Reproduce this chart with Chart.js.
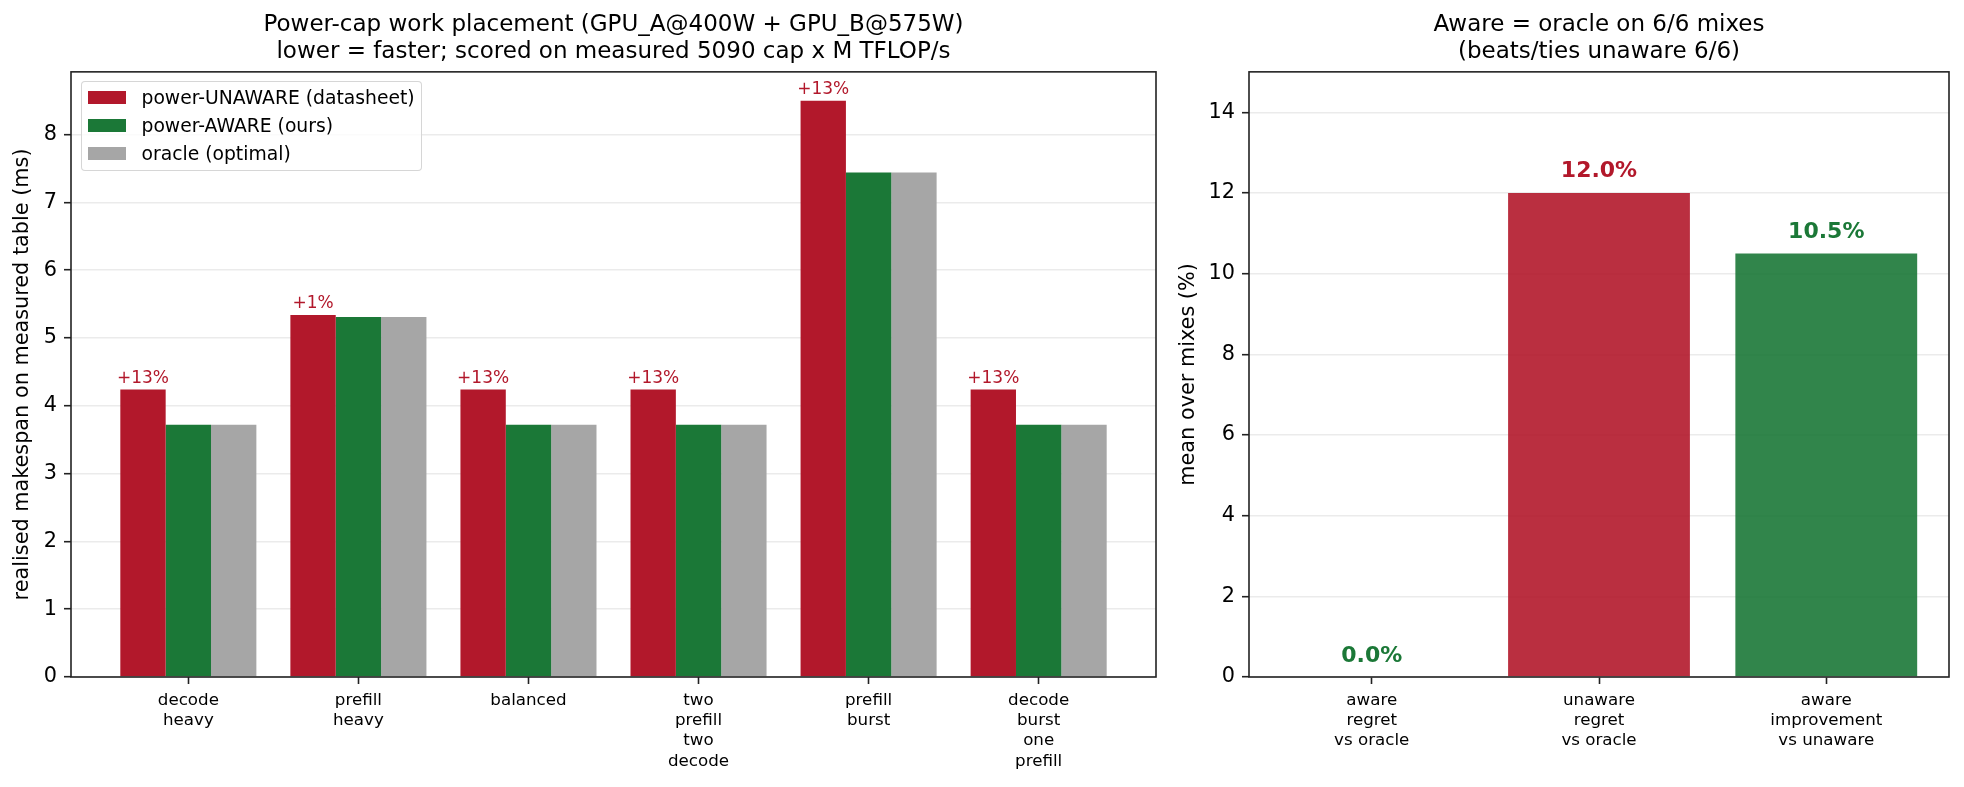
<!DOCTYPE html>
<html>
<head>
<meta charset="utf-8">
<script src="https://cdn.jsdelivr.net/npm/chart.js@4.4.1/dist/chart.umd.min.js"></script>
<style>
  html, body { margin: 0; padding: 0; background: #fff; }
  body { width: 1964px; height: 787px; position: relative; overflow: hidden; font-family: "DejaVu Sans", sans-serif; }
  #placementChart { position: absolute; left: 0; top: 0; }
  #summaryChart { position: absolute; left: 1160px; top: 0; }
  .legend {
    position: absolute; left: 81px; top: 81px; width: 339px; height: 88px;
    border: 1.5px solid rgba(204, 204, 204, 0.8); border-radius: 4px;
    background: rgba(255, 255, 255, 0.8); font-size: 18.75px; color: #000; z-index: 2;
  }
  .legend .row { position: absolute; left: 6px; height: 28px; display: flex; align-items: center; white-space: nowrap; }
  .legend .sw { width: 37.5px; height: 13px; margin-right: 16px; }
</style>
</head>
<body>
<canvas id="placementChart" width="1160" height="787"></canvas>
<canvas id="summaryChart" width="804" height="787"></canvas>
<div class="legend" id="legend"></div>

<script>
// ---- data ----
const mixNames = [
  ['decode', 'heavy'],
  ['prefill', 'heavy'],
  ['balanced'],
  ['two', 'prefill', 'two', 'decode'],
  ['prefill', 'burst'],
  ['decode', 'burst', 'one', 'prefill']
];
const seriesNames = ['power-UNAWARE (datasheet)', 'power-AWARE (ours)', 'oracle (optimal)'];
const unawareMs = [4.24, 5.34, 4.24, 4.24, 8.50, 4.24];
const awareMs   = [3.72, 5.31, 3.72, 3.72, 7.44, 3.72];
const oracleMs  = [3.72, 5.31, 3.72, 3.72, 7.44, 3.72];
const gapLabels = ['+13%', '+1%', '+13%', '+13%', '+13%', '+13%'];

const summaryNames = [
  ['aware', 'regret', 'vs oracle'],
  ['unaware', 'regret', 'vs oracle'],
  ['aware', 'improvement', 'vs unaware']
];
const summaryPct = [0.0, 12.0, 10.5];

// ---- styles ----
const FONT = '"DejaVu Sans", sans-serif';
const RED = '#b2182b';
const GREEN = '#1b7837';
const GREY = '#a6a6a6';
const SPINE = '#222';

const toXY = (arr) => arr.map((v, i) => ({ x: i, y: v }));

// box around the plot area, like matplotlib spines
const framePlugin = {
  id: 'frame',
  afterDraw(chart) {
    const { ctx, chartArea: a } = chart;
    ctx.save();
    ctx.strokeStyle = SPINE;
    ctx.lineWidth = 1.6;
    ctx.strokeRect(a.left, a.top, a.right - a.left, a.bottom - a.top);
    ctx.restore();
  }
};

function xAxis(min, max, names, height) {
  return {
    type: 'linear',
    min, max,
    offset: false,
    afterBuildTicks: (s) => { s.ticks = names.map((_, i) => ({ value: i })); },
    afterFit: (s) => { s.height = height; },
    ticks: {
      callback: (v) => names[v],
      font: { family: FONT, size: 16.7, lineHeight: 1.22 },
      color: '#000',
      padding: 6,
      maxRotation: 0,
      autoSkip: false
    },
    grid: { offset: false, drawOnChartArea: false, drawTicks: true, tickLength: 7, tickWidth: 1.6, tickColor: SPINE },
    border: { display: false }
  };
}

function yAxis(max, step, width, label, titlePad, onTop) {
  return {
    min: 0, max,
    z: onTop ? 1 : 0,
    afterFit: (s) => { s.width = width; },
    ticks: {
      stepSize: step,
      includeBounds: false,
      font: { family: FONT, size: 20.8 },
      color: '#000',
      padding: 7
    },
    grid: {
      color: onTop ? 'rgba(128,128,128,0.16)' : '#ebebeb',
      lineWidth: 1.4,
      drawTicks: true, tickLength: 7, tickWidth: 1.6, tickColor: SPINE
    },
    border: { display: false },
    title: {
      display: true, text: label, color: '#000',
      font: { family: FONT, size: 20.8, lineHeight: 1.2 },
      padding: { top: titlePad, bottom: 0 }
    }
  };
}

function titleOpts(lines) {
  return {
    display: true, fullSize: false, text: lines, color: '#000',
    font: { family: FONT, size: 23, weight: 'normal', lineHeight: 1.16 },
    padding: { top: 11.6, bottom: 6.9 }
  };
}

// ---- left: makespan per mix ----
const gapTextPlugin = {
  id: 'gapText',
  afterDatasetsDraw(chart) {
    const { ctx } = chart;
    const meta = chart.getDatasetMeta(0);
    ctx.save();
    ctx.font = '17px ' + FONT;
    ctx.fillStyle = RED;
    ctx.textAlign = 'center';
    ctx.textBaseline = 'alphabetic';
    meta.data.forEach((bar, i) => ctx.fillText(gapLabels[i], bar.x, bar.y - 6.7));
    ctx.restore();
  }
};

new Chart(document.getElementById('placementChart'), {
  type: 'bar',
  data: {
    datasets: [
      { label: seriesNames[0], data: toXY(unawareMs), backgroundColor: RED },
      { label: seriesNames[1], data: toXY(awareMs), backgroundColor: GREEN },
      { label: seriesNames[2], data: toXY(oracleMs), backgroundColor: GREY }
    ]
  },
  options: {
    responsive: false,
    animation: false,
    layout: { padding: { left: 0, right: 4, top: 0, bottom: 0 } },
    datasets: { bar: { categoryPercentage: 0.8, barPercentage: 1.0, borderWidth: 0 } },
    plugins: {
      legend: { display: false },
      tooltip: { enabled: false },
      title: titleOpts(['Power-cap work placement (GPU_A@400W + GPU_B@575W)',
                        'lower = faster; scored on measured 5090 cap x M TFLOP/s'])
    },
    scales: {
      x: xAxis(-0.69, 5.69, mixNames, 110),
      y: yAxis(8.925, 1, 71, 'realised makespan on measured table (ms)', 10.5, true)
    }
  },
  plugins: [gapTextPlugin, framePlugin]
});

// legend drawn as html inside the plot area
(() => {
  const legend = document.getElementById('legend');
  const colors = [RED, GREEN, GREY];
  const tops = [1, 29, 57.8];
  seriesNames.forEach((name, i) => {
    const row = document.createElement('div');
    row.className = 'row';
    row.style.top = tops[i] + 'px';
    row.innerHTML = `<span class="sw" style="background:${colors[i]}"></span><span>${name}</span>`;
    legend.appendChild(row);
  });
})();

// ---- right: summary percentages ----
const summaryFill = ['rgba(27,120,55,0.9)', 'rgba(178,24,43,0.9)', 'rgba(27,120,55,0.9)'];
const summaryText = [GREEN, RED, GREEN];

const valueTextPlugin = {
  id: 'valueText',
  afterDatasetsDraw(chart) {
    const { ctx } = chart;
    const meta = chart.getDatasetMeta(0);
    ctx.save();
    ctx.font = 'bold 22px ' + FONT;
    ctx.textAlign = 'center';
    ctx.textBaseline = 'alphabetic';
    meta.data.forEach((bar, i) => {
      ctx.fillStyle = summaryText[i];
      ctx.fillText(summaryPct[i].toFixed(1) + '%', bar.x, bar.y - 15.5);
    });
    ctx.restore();
  }
};

new Chart(document.getElementById('summaryChart'), {
  type: 'bar',
  data: {
    datasets: [{ label: 'mean over mixes', data: toXY(summaryPct), backgroundColor: summaryFill, borderWidth: 0 }]
  },
  options: {
    responsive: false,
    animation: false,
    layout: { padding: { left: 0, right: 15, top: 0, bottom: 0 } },
    datasets: { bar: { categoryPercentage: 1.0, barPercentage: 0.8 } },
    plugins: {
      legend: { display: false },
      tooltip: { enabled: false },
      title: titleOpts(['Aware = oracle on 6/6 mixes', '(beats/ties unaware 6/6)'])
    },
    scales: {
      x: xAxis(-0.54, 2.54, summaryNames, 110),
      y: yAxis(15, 2, 89, 'mean over mixes (%)', 16.5, false)
    }
  },
  plugins: [valueTextPlugin, framePlugin]
});
</script>
</body>
</html>
